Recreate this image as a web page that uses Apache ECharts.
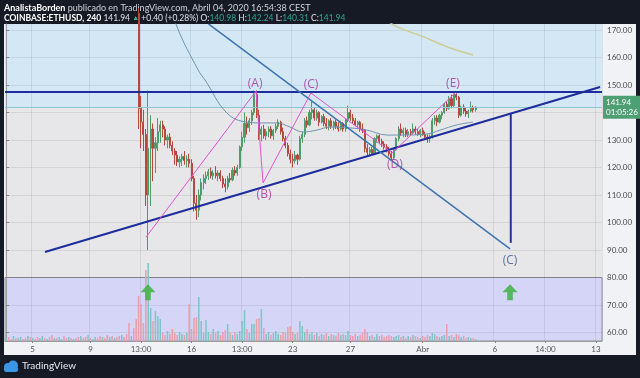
<!DOCTYPE html>
<html><head><meta charset="utf-8">
<script src="https://cdn.jsdelivr.net/npm/echarts@6/dist/echarts.min.js"></script>
<style>html,body{margin:0;padding:0;background:#161a25;}#c{width:640px;height:378px;}</style>
</head><body><div id="c"></div><script>
// ---------- DATA ----------
// 4h bars (categories) from 2020-03-03 04:00 UTC, 248 slots shown on the time axis
const firstSlot = Date.UTC(2020, 2, 3, 4);
const slotCount = 248;
const tickCategories = ['2020-03-05 00:00','2020-03-09 00:00','2020-03-12 12:00','2020-03-16 00:00','2020-03-19 12:00','2020-03-23 00:00','2020-03-27 00:00','2020-04-01 00:00','2020-04-06 00:00','2020-04-09 12:00','2020-04-13 00:00'];
const tickLabels = ['5','9','13:00','16','13:00','23','27','Abr','6','14:00','13'];
const priceTicks = [60,70,80,90,100,110,120,130,140,150,160,170];

// ETH/USD 4h candles from 2020-03-12 08:00 (earlier bars are above the visible range)
const candleStart = '2020-03-12 08:00';
const opens = [176,141.5,136.5,132,110,127,134,127,129,133,
135.5,134,130,131,128,126,124.5,122,123,124,
122.5,123,121.5,116,107,104.5,110,114.5,116,117,
118.5,117,118,117,118,116,114,113,116,115.5,
119,118,120,127.5,131,136,134.5,137,140,146.5,
139,132,134,131.5,133,134,131.5,133.5,135,136.5,
133,130.5,128,125,123,122.5,124.5,123,130.5,132,
137,135.5,140,141,138,140,136.5,138.5,136,135,
137,135,136.5,135,134,136,134,137.5,140,138,
137,135.5,136.5,134,133.5,127,125.5,126.5,125,130.5,
131.5,129.5,128.5,127.5,126,125,123.5,126.5,130.5,134,
132.5,133.5,132,133,132.5,134,133,132,133.5,132,
131,130.5,131,137,138,136.5,139,140,143,141.5,
145,142.5,146.5,145.5,139,142,140.5,139.5,140.5,141.5,
140.98];
const closes = [141.5,136.5,132,110,127,134,127,129,133,135.5,
134,130,131,128,126,124.5,122,123,124,122.5,
123,121.5,116,107,104.5,110,114.5,116,117,118.5,
117,118,117,118,116,114,113,116,115.5,119,
118,120,127.5,131,136,134.5,137,140,146.5,139,
132,134,131.5,133,134,131.5,133.5,135,136.5,133,
130.5,128,125,123,122.5,124.5,123,130.5,132,137,
135.5,140,141,138,140,136.5,138.5,136,135,137,
135,136.5,135,134,136,134,137.5,140,138,137,
135.5,136.5,134,133.5,127,125.5,126.5,125,130.5,131.5,
129.5,128.5,127.5,126,125,123.5,126.5,130.5,134,132.5,
133.5,132,133,132.5,134,133,132,133.5,132,131,
130.5,131,137,138,136.5,139,140,143,141.5,145,
142.5,146.5,145.5,139,142,140.5,139.5,140.5,141.5,140.98,
141.94];
const highs = [178,146,141,134,148,139,136,131,138,137,
137,135,132,132.5,129.5,127,126,124,125,126,
124.5,125,123,117,110,112,116,117.5,118.5,119.5,
120,119,120.5,119,119,117,116,117,118,120,
120.5,121,128,133,140,138.5,138,141,148,148,
141,135,135.5,134,135,135,134,136,137.5,137,
134.5,131.5,129,126.5,125,126,125,131.5,133,138,
138.5,141,144,142,141,140.5,139,139.5,138,137.5,
138,137,137.5,136.5,137,136.5,138,142.5,141,139.5,
138,137,137,136,134,128.5,127.5,127.5,131,132,
132,130.5,129.5,128.5,127.5,126,127,131,135,136,
134.5,134.5,134,134,136,135,134,134,134.5,133,
132,132,138,139,139,139.5,140.5,143.5,144,146,
146.5,147,147,146,142.5,143,142,141,144,142.5,
142.24];
const lows = [134,127,126,106,90,106,115,118,126,129,
131,128,127,127,124.5,121,120.5,120,120.5,121,
120,120,115,104,101,102,108,112,114,115.5,
116,115.5,116,115,115,112.5,111,112,114.5,115,
117,117,119.5,126,129,132,133,135.5,139,138,
130,129.5,130.5,130,131,130.5,130,132.5,134,132,
129.5,127,124,121.5,120,121.5,121,122.5,129,131,
134.5,135,137.5,137,137,135,136,135,134,133.5,
134,133.5,134,133,133.5,133,133,136.5,137,136,
135,134,133,132.5,125.5,124.5,124,124.5,124.5,129,
128.5,127.5,126.5,125.5,124,122.5,123,126,129.5,131.5,
131,131,131,131.5,132,132,131.5,131,131.5,130.5,
129,129,130.5,135.5,135,136,137.5,139.5,140.5,141,
141.5,142,144.5,138,138.5,139.5,138.5,138,140,140,
140.31];

// volume (relative units) for every bar from the first slot
const volumes = [3,4,2,5,3,3,4,2,3,5, 4,3,2,4,3,5,3,2,4,6, 3,3,4,2,5,3,4,3,2,3, 4,5,3,4,6,3,2,4,3,5, 4,3,6,4,5,3,4,5,6,4,
7,18,5,13,22,
45,37,18,71,78,33,20,30,25,22,
8,6,10,7,12,8,6,9,7,6,
8,37,12,23,24,44,20,8,21,9,
7,12,8,10,6,9,11,17,8,6,
9,7,10,20,31,12,8,17,17,22,
23,32,13,7,9,6,8,10,7,6,
9,8,14,15,9,7,8,20,15,9,
12,7,9,6,8,5,7,6,8,5,
7,6,5,8,6,7,6,10,6,5,
7,5,6,8,12,9,5,6,4,7,
5,6,4,5,6,5,4,5,6,4,
5,3,5,4,6,5,4,3,5,4,
6,5,8,7,5,4,5,6,17,5,
6,4,7,6,4,5,3,4,3,3,2];
// direction of the early volume bars (before the visible candles): 1 = up
const earlyVolUp = [1,0,0,1,0,1,1,0,0,1, 0,1,0,0,1,1,0,1,0,0, 1,0,1,1,0,0,1,0,1,0, 0,1,0,0,1,0,1,1,0,0, 1,0,0,1,0,1,0,0,1,0, 0,0,1,0,0];

// indicator lines: [bar index, price]
const ema50 = [[64,190],[71,171.1],[79.7,155.5],[82.6,151.8],[91.7,139.8],[100,136.5],[106.7,136.2],[112.5,136.2],[117.9,134.7],[123.3,132.9],[129.1,133.6],[134.5,134.7],[142.8,134.4],[149.9,133.6],[158.2,131.8],[163.6,131.8],[174.8,132.2],[180.2,133.6],[187.3,135.5],[193.9,136.5]];
const ema200 = [[157,174.5],[162.2,171.2],[173.2,167.6],[183.1,163.9],[193.9,160.9]];

// drawings: [bar index, price]
const supportLine = [[16.1,89.3],[246.7,149.3]];
const resistanceLevel = 147.45;
const fallingLine = [[84,172.2],[209.3,90.4]];
const targetLine = [[209.6,139.6],[209.6,92.6]];
const wavePoints = [[58.1,94.7],[103.8,147.8],[106.7,114.4],[126.6,147.1],[160.3,125.3],[186.5,147.1]];
const waveLabels = [{name:'(A)', value:[103.4,150.4]},{name:'(B)', value:[107.1,110.2]},{name:'(C)', value:[126.6,150.1]},{name:'(D)', value:[161.5,120.9]},{name:'(E)', value:[185.6,150.6]}];
const targetLabel = [{name:'(C)', value:[209.3,86.1]}];
const arrows = [[58.9,74.6],[209.3,74.6]];
const zoneTop = [141.6, 172.18];   // light blue zone
const zoneVolume = [56.91, 80];    // lavender zone
const lastClose = 141.94;
const countdown = '01:05:26';

// ---------- BUILD ----------
function fmt(d){const p=n=>String(n).padStart(2,'0');return d.getUTCFullYear()+'-'+p(d.getUTCMonth()+1)+'-'+p(d.getUTCDate())+' '+p(d.getUTCHours())+':00';}
const cats=[];
for(let k=0;k<slotCount;k++) cats.push(fmt(new Date(firstSlot+k*4*3600e3)));
const labelMap={}; tickCategories.forEach((c,i)=>labelMap[c]=tickLabels[i]);
const startIdx = cats.indexOf(candleStart);
const candleData = opens.map((o,k)=>[cats[startIdx+k], o, closes[k], lows[k], highs[k]]);
const volUpColor='#7fc4c6', volDownColor='#ea9eab';
const volData = volumes.map((v,i)=>{const k=i-startIdx; const up = k>=0 ? closes[k]>=opens[k] : earlyVolUp[i]===1; return {value:v, itemStyle:{color: up?volUpColor:volDownColor}};});

const FF = 'Lato, "Noto Sans", sans-serif';
const isTick = (idx,val)=> labelMap[val]!==undefined;
const gridCol='rgba(0,0,0,0.075)';
const clear='rgba(0,0,0,0)';

const chart = echarts.init(document.getElementById('c'), null, {width:640,height:378});
const arrowPath='path://M8,0 L16,8 L11,8 L11,16 L5,16 L5,8 L0,8 Z';
chart.setOption({
  animation:false,
  textStyle:{fontFamily:FF},
  grid:[
    {left:5,right:38,top:24,bottom:37,show:true,backgroundColor:'#e7e7e9',borderWidth:0},
    {left:5,right:38,top:241,bottom:37}
  ],
  xAxis:[
    {type:'category',gridIndex:0,data:cats,z:2,
     axisLine:{lineStyle:{color:'#9c9c9c'}},
     axisTick:{show:true,alignWithLabel:true,interval:isTick,length:2,lineStyle:{color:'#888'}},
     axisLabel:{interval:isTick,formatter:v=>labelMap[v]||'',color:'#555',fontSize:8,margin:4,fontFamily:FF},
     splitLine:{show:true,interval:isTick,lineStyle:{color:gridCol}}},
    {type:'value',gridIndex:0,min:-0.5,max:slotCount-0.5,show:false},
    {type:'category',gridIndex:1,data:cats,show:false}
  ],
  yAxis:[
    {type:'value',gridIndex:0,position:'right',min:zoneVolume[0],max:zoneTop[1],z:2,
     axisLine:{show:true,lineStyle:{color:'#9c9c9c'}},
     axisTick:{show:true,length:3,customValues:priceTicks,lineStyle:{color:'#888'}},
     axisLabel:{customValues:priceTicks,formatter:v=>v.toFixed(2),color:'#4a4a4a',fontSize:8,margin:5,fontFamily:FF},
     splitLine:{show:true,lineStyle:{color:gridCol}}},
    {type:'value',gridIndex:1,min:0,max:100,show:false}
  ],
  series:[
    {type:'line',xAxisIndex:1,yAxisIndex:0,data:[],z:1,
     markArea:{silent:true,z:1,data:[
       [{yAxis:zoneTop[0],itemStyle:{color:'#d3e8f4'}},{yAxis:zoneTop[1]}],
       [{yAxis:zoneVolume[0],itemStyle:{color:'#d5d5f7',borderColor:'#8e8e9a',borderWidth:1}},{yAxis:zoneVolume[1]}]
     ]}},
    {type:'bar',xAxisIndex:2,yAxisIndex:1,data:volData,barWidth:1.5,z:3,silent:true},
    {type:'candlestick',xAxisIndex:0,yAxisIndex:0,data:candleData,encode:{x:0,y:[1,2,3,4]},clip:true,
     barWidth:1.6,z:4,silent:true,
     itemStyle:{color:'#4e9c6a',color0:'#b8473e',borderColor:'#4e9c6a',borderColor0:'#b8473e',borderWidth:1}},
    {type:'line',xAxisIndex:1,yAxisIndex:0,data:ema50,smooth:0.4,showSymbol:false,z:5,lineStyle:{color:'#6d95ae',width:1},silent:true},
    {type:'line',xAxisIndex:1,yAxisIndex:0,data:ema200,smooth:0.4,showSymbol:false,z:5,lineStyle:{color:'#cdcb98',width:1.5},silent:true},
    {type:'line',xAxisIndex:1,yAxisIndex:0,data:supportLine,showSymbol:false,z:6,lineStyle:{color:'#1f2c9e',width:2},silent:true,
     markLine:{silent:true,symbol:'none',z:6,label:{show:false},lineStyle:{color:'#1f2c9e',width:2,type:'solid'},data:[{yAxis:resistanceLevel}]}},
    {type:'line',xAxisIndex:1,yAxisIndex:0,data:fallingLine,showSymbol:false,z:6,lineStyle:{color:'#3e74b0',width:1.5},silent:true},
    {type:'line',xAxisIndex:1,yAxisIndex:0,data:targetLine,showSymbol:false,z:6,lineStyle:{color:'#26329c',width:2},silent:true},
    {type:'line',xAxisIndex:1,yAxisIndex:0,data:wavePoints,showSymbol:false,z:6,lineStyle:{color:'#e052d2',width:1},silent:true},
    {type:'scatter',xAxisIndex:1,yAxisIndex:0,data:waveLabels,symbolSize:2,itemStyle:{color:clear},z:7,silent:true,
     label:{show:true,position:'inside',formatter:p=>p.name,color:'#a82f9c',fontSize:12,fontFamily:'"Open Sans", sans-serif'}},
    {type:'scatter',xAxisIndex:1,yAxisIndex:0,data:targetLabel,symbolSize:2,itemStyle:{color:clear},z:7,silent:true,
     label:{show:true,position:'inside',formatter:p=>p.name,color:'#3a5585',fontSize:12,fontFamily:'"Open Sans", sans-serif'}},
    {type:'scatter',xAxisIndex:1,yAxisIndex:0,data:arrows,symbol:arrowPath,symbolSize:[15,16],z:7,silent:true,itemStyle:{color:'#34b03a'}},
    {type:'line',xAxisIndex:1,yAxisIndex:0,data:[],z:8,
     markLine:{silent:true,symbol:'none',lineStyle:{color:'#8fc6d3',width:1,type:'solid'},
       label:{show:true,position:'end',distance:1,formatter:lastClose.toFixed(2)+'\n'+countdown,color:'#fff',backgroundColor:'#4f9f74',padding:[2,3,1,3],fontSize:8,lineHeight:10,fontFamily:FF},
       data:[{yAxis:lastClose}]}}
  ],
  graphic:[
    {type:'rect',z:-5,silent:true,shape:{x:4,y:24,width:632,height:331},style:{fill:'#f1f2f5'}},
    {type:'text',x:4,y:8,silent:true,style:{text:'{b|AnalistaBorden} publicado en TradingView.com, Abril 04, 2020 16:54:38 CEST',fill:'#cfd2da',fontSize:9,fontFamily:FF,verticalAlign:'middle',
      rich:{b:{fontWeight:'bold',fill:'#ffffff',fontSize:9,fontFamily:FF}}}},
    {type:'text',x:4,y:18,silent:true,style:{text:'{b|COINBASE:ETHUSD, 240} 141.94 {g|▲} +0.40 (+0.28%) O:{t|140.98} H:{t|142.24} L:{t|140.31} C:{t|141.94}',fill:'#dfe1e8',fontSize:8.5,fontFamily:FF,verticalAlign:'middle',
      rich:{b:{fontWeight:'bold',fill:'#ffffff',fontSize:8.5,fontFamily:FF},g:{fill:'#3db08e',fontSize:7},t:{fill:'#2fa592',fontSize:8.5,fontFamily:FF}}}},
    {type:'text',x:10,y:33,silent:true,style:{text:'Ethereum / Dólar, 240, COINBASE',fill:'#333',fontSize:9,fontFamily:FF,verticalAlign:'middle'}},
    {type:'text',x:10,y:44,silent:true,style:{text:'Vol. (20)',fill:'#5a5a5a',fontSize:9,fontFamily:FF,verticalAlign:'middle'}},
    {type:'text',x:10,y:54,silent:true,style:{text:'EMA (50, close)',fill:'#5a5a5a',fontSize:9,fontFamily:FF,verticalAlign:'middle'}},
    {type:'text',x:10,y:64,silent:true,style:{text:'EMA (200, EMA)',fill:'#5a5a5a',fontSize:9,fontFamily:FF,verticalAlign:'middle'}},
    {type:'circle',silent:true,shape:{cx:8,cy:367,r:4},style:{fill:'#3a97e6'}},
    {type:'circle',silent:true,shape:{cx:13,cy:365.5,r:5},style:{fill:'#3a97e6'}},
    {type:'rect',silent:true,shape:{x:4,y:367,width:14,height:5,r:2},style:{fill:'#3a97e6'}},
    {type:'text',x:22,y:366,silent:true,style:{text:'TradingView',fill:'#e6e8ee',fontSize:10,fontFamily:FF,verticalAlign:'middle'}}
  ]
});
</script></body></html>
